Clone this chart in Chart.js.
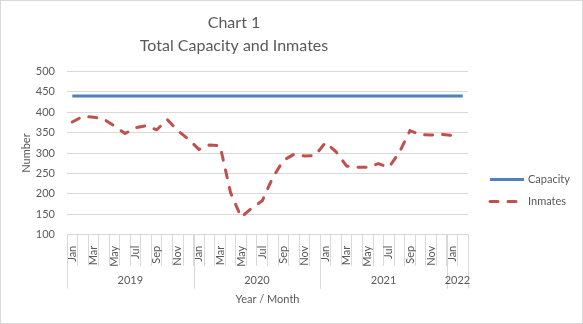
<!DOCTYPE html>
<html>
<head>
<meta charset="utf-8">
<script src="https://cdn.jsdelivr.net/npm/chart.js@4/dist/chart.umd.min.js"></script>
<style>
  html, body { margin: 0; padding: 0; background: #fff; }
</style>
</head>
<body>
<canvas id="chart1" width="583" height="324"></canvas>
<script>
// Category axis: one entry per month, Jan 2019 to Feb 2022
const monthLabels = [
  'Jan', 'Feb', 'Mar', 'Apr', 'May', 'Jun', 'Jul', 'Aug', 'Sep', 'Oct', 'Nov', 'Dec',
  'Jan', 'Feb', 'Mar', 'Apr', 'May', 'Jun', 'Jul', 'Aug', 'Sep', 'Oct', 'Nov', 'Dec',
  'Jan', 'Feb', 'Mar', 'Apr', 'May', 'Jun', 'Jul', 'Aug', 'Sep', 'Oct', 'Nov', 'Dec',
  'Jan', 'Feb'
];
// second row of the axis: years and how many months each one spans
const yearLabels = ['2019', '2020', '2021', '2022'];
const monthsPerYear = [12, 12, 12, 2];

const capacity = [
  440, 440, 440, 440, 440, 440, 440, 440, 440, 440, 440, 440,
  440, 440, 440, 440, 440, 440, 440, 440, 440, 440, 440, 440,
  440, 440, 440, 440, 440, 440, 440, 440, 440, 440, 440, 440,
  440, 440
];
const inmates = [
  376, 390, 388, 383, 366, 348, 362, 367, 357, 382, 355, 334,
  309, 320, 318, 203, 143, 165, 183, 240, 282, 297, 293, 294,
  326, 303, 268, 265, 265, 274, 265, 302, 355, 345, 344, 346,
  343, null
];

const yMin = 100;
const yMax = 500;
const yStep = 50;

const textColor = '#595959';
const lineGrey = '#d9d9d9';
const fontFamily = 'Lato, "Open Sans", sans-serif';

// outer frame round the whole chart
const frame = {
  id: 'frame',
  beforeDraw(chart) {
    const ctx = chart.ctx;
    ctx.save();
    ctx.fillStyle = '#fff';
    ctx.fillRect(0, 0, chart.width, chart.height);
    ctx.strokeStyle = lineGrey;
    ctx.lineWidth = 1;
    ctx.strokeRect(0.5, 0.5, chart.width - 1, chart.height - 1);
    ctx.restore();
  }
};

// year row under the month labels, with the long separators
const yearAxis = {
  id: 'yearAxis',
  afterDraw(chart) {
    const ctx = chart.ctx;
    const xs = chart.scales.x;
    const bottom = chart.chartArea.bottom;
    const half = (xs.getPixelForValue(1) - xs.getPixelForValue(0)) / 2;
    ctx.save();
    ctx.strokeStyle = lineGrey;
    ctx.lineWidth = 1;
    ctx.fillStyle = textColor;
    ctx.font = '11px ' + fontFamily;
    ctx.textAlign = 'center';
    ctx.textBaseline = 'middle';
    let start = 0;
    yearLabels.forEach((yr, k) => {
      const end = start + monthsPerYear[k] - 1;
      const left = xs.getPixelForValue(start) - half;
      const right = xs.getPixelForValue(end) + half;
      const edges = k === yearLabels.length - 1 ? [left, right] : [left];
      edges.forEach(px => {
        const xx = Math.round(px) + 0.5;
        ctx.beginPath();
        ctx.moveTo(xx, bottom);
        ctx.lineTo(xx, bottom + 54);
        ctx.stroke();
      });
      ctx.fillText(yr, (left + right) / 2, bottom + 46);
      start = end + 1;
    });
    ctx.restore();
  }
};

// legend on the right, drawn with each dataset's own line style
const sideLegend = {
  id: 'sideLegend',
  afterDraw(chart) {
    const ctx = chart.ctx;
    const x0 = chart.chartArea.right + 22;
    chart.data.datasets.forEach((ds, i) => {
      const y = 179.5 + i * 22;
      ctx.save();
      ctx.strokeStyle = ds.borderColor;
      ctx.lineWidth = ds.borderWidth;
      ctx.lineCap = ds.borderCapStyle || 'butt';
      ctx.setLineDash(ds.borderDash || []);
      ctx.beginPath();
      ctx.moveTo(x0, y);
      ctx.lineTo(x0 + 34, y);
      ctx.stroke();
      ctx.fillStyle = textColor;
      ctx.font = '11px ' + fontFamily;
      ctx.textAlign = 'left';
      ctx.textBaseline = 'middle';
      ctx.fillText(ds.label, x0 + 38, y);
      ctx.restore();
    });
  }
};

const ctx = document.getElementById('chart1').getContext('2d');
const chart1 = new Chart(ctx, {
  type: 'line',
  data: {
    labels: monthLabels,
    datasets: [
      {
        label: 'Capacity',
        data: capacity,
        borderColor: '#4F81BD',
        backgroundColor: '#4F81BD',
        borderWidth: 3,
        pointRadius: 0,
        tension: 0
      },
      {
        label: 'Inmates',
        data: inmates,
        borderColor: '#C0504D',
        backgroundColor: '#C0504D',
        borderWidth: 3,
        borderDash: [8, 10],
        borderCapStyle: 'round',
        pointRadius: 0,
        tension: 0
      }
    ]
  },
  options: {
    responsive: false,
    animation: false,
    devicePixelRatio: 1,
    layout: {
      padding: { left: 0, right: 115, top: 0, bottom: 18 }
    },
    plugins: {
      legend: { display: false },
      tooltip: { enabled: false },
      title: {
        display: true,
        text: ['Chart 1', 'Total Capacity and Inmates'],
        color: textColor,
        font: { family: fontFamily, size: 16, weight: 'normal', lineHeight: 1.45 },
        padding: { top: 11, bottom: 14 }
      }
    },
    scales: {
      x: {
        type: 'category',
        offset: true,
        grid: {
          offset: true,
          drawOnChartArea: false,
          color: lineGrey,
          tickLength: 31
        },
        border: { color: lineGrey },
        ticks: {
          autoSkip: false,
          minRotation: 90,
          maxRotation: 90,
          padding: -20,
          color: textColor,
          font: { family: fontFamily, size: 11 },
          callback: (v, i) => (i % 2 === 0 ? monthLabels[i] : '')
        },
        title: {
          display: true,
          text: 'Year / Month',
          color: textColor,
          font: { family: fontFamily, size: 11 },
          padding: { top: 46, bottom: 0 }
        }
      },
      y: {
        min: yMin,
        max: yMax,
        afterFit: s => { s.width = 67; },
        grid: { color: lineGrey, drawTicks: false },
        border: { display: false },
        ticks: {
          stepSize: yStep,
          padding: 12,
          color: textColor,
          font: { family: fontFamily, size: 11 }
        },
        title: {
          display: true,
          text: 'Number',
          color: textColor,
          font: { family: fontFamily, size: 11 },
          padding: { top: 20, bottom: 0 }
        }
      }
    }
  },
  plugins: [frame, yearAxis, sideLegend]
});
</script>
</body>
</html>
